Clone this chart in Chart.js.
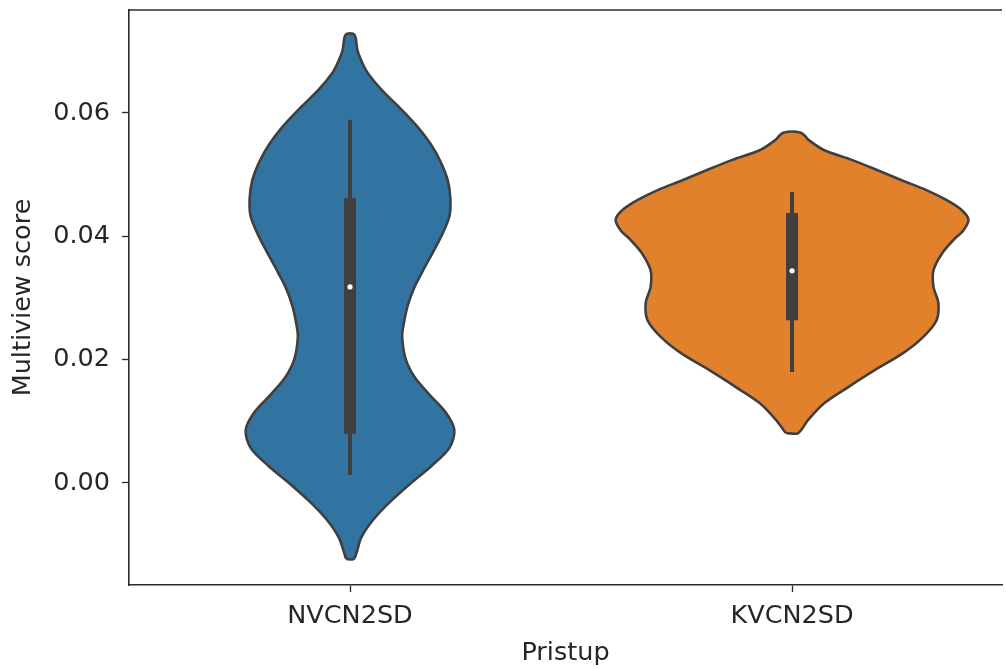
<!DOCTYPE html>
<html>
<head>
<meta charset="utf-8">
<script src="https://cdn.jsdelivr.net/npm/chart.js@4"></script>
<style>
  html, body { margin: 0; padding: 0; background: #fff; overflow: hidden; }
  #wrap { width: 1006px; height: 669px; }
</style>
</head>
<body>
<div id="wrap"><canvas id="violinChart"></canvas></div>
<script>
const categories = ['NVCN2SD', 'KVCN2SD'];
const yTicks = [0, 0.02, 0.04, 0.06];

// violin outlines: score levels (bottom -> top) and half widths of the density
const nvcnLevels = [-0.0123, -0.0089, -0.0060, -0.0031, -0.0002, 0.0028, 0.0057, 0.0086, 0.0115, 0.0143,
  0.0172, 0.0201, 0.0237, 0.0260, 0.0289, 0.0318, 0.0347, 0.0376, 0.0404, 0.0433,
  0.0462, 0.0491, 0.0521, 0.0550, 0.0579, 0.0608, 0.0637, 0.0665, 0.0681, 0.0701, 0.0727];
const nvcnWidth = [0.009, 0.025, 0.052, 0.090, 0.135, 0.185, 0.225, 0.236, 0.216, 0.180,
  0.146, 0.126, 0.118, 0.122, 0.131, 0.146, 0.167, 0.189, 0.209, 0.225,
  0.227, 0.221, 0.205, 0.182, 0.151, 0.113, 0.072, 0.040, 0.028, 0.017, 0.010];

const kvcnLevels = [0.0081, 0.0102, 0.0130, 0.0156, 0.0183, 0.0211, 0.0237, 0.0264, 0.0292, 0.0318,
  0.0345, 0.0373, 0.0394, 0.0410, 0.0427, 0.0443, 0.0459, 0.0475, 0.0491, 0.0508,
  0.0524, 0.0540, 0.0556, 0.0568];
const kvcnWidth = [0.014, 0.036, 0.074, 0.128, 0.187, 0.252, 0.297, 0.327, 0.331, 0.320,
  0.320, 0.340, 0.365, 0.388, 0.399, 0.383, 0.349, 0.304, 0.248, 0.191,
  0.135, 0.072, 0.038, 0.020];

// inner box plot
const whiskerLow = [0.0013, 0.0180];
const q1 = [0.0080, 0.0264];
const median = [0.0318, 0.0344];
const q3 = [0.0462, 0.0438];
const whiskerHigh = [0.0589, 0.0472];

const colors = ['#3274a1', '#e1812c'];
const edge = '#3f3f3f';

function outline(center, levels, widths) {
    const pts = [];
    for (let i = 0; i < levels.length; i++) pts.push({x: center - widths[i], y: levels[i]});
    for (let i = levels.length - 1; i >= 0; i--) pts.push({x: center + widths[i], y: levels[i]});
    pts.push(pts[0]);
    return pts;
}

const violins = [[nvcnLevels, nvcnWidth], [kvcnLevels, kvcnWidth]];
const datasets = [];
violins.forEach(([lv, wd], i) => {
    datasets.push({
        data: outline(i, lv, wd),
        fill: 'shape',
        backgroundColor: colors[i],
        borderColor: edge,
        borderWidth: 2.6,
        borderJoinStyle: 'round',
        tension: 0.3,
        pointRadius: 0,
        order: 3
    });
    datasets.push({
        data: [{x: i, y: whiskerLow[i]}, {x: i, y: whiskerHigh[i]}],
        borderColor: edge,
        borderWidth: 4,
        borderCapStyle: 'butt',
        pointRadius: 0,
        fill: false,
        order: 2
    });
    datasets.push({
        data: [{x: i, y: q1[i]}, {x: i, y: q3[i]}],
        borderColor: edge,
        borderWidth: 12,
        borderCapStyle: 'butt',
        pointRadius: 0,
        fill: false,
        order: 1
    });
    datasets.push({
        data: [{x: i, y: median[i]}],
        showLine: false,
        pointRadius: 2.6,
        pointBackgroundColor: '#ffffff',
        pointBorderWidth: 0,
        order: 0
    });
});

const frameTop = {
    id: 'frameTop',
    afterDatasetsDraw(chart) {
        const {ctx, chartArea: a} = chart;
        ctx.save();
        ctx.strokeStyle = '#2a2a2a';
        ctx.lineWidth = 1.6;
        ctx.beginPath();
        ctx.moveTo(a.left, a.top);
        ctx.lineTo(a.right, a.top);
        ctx.stroke();
        ctx.restore();
    }
};

const font = {family: '"DejaVu Sans", sans-serif', size: 25.5};

new Chart(document.getElementById('violinChart').getContext('2d'), {
    type: 'line',
    data: {datasets},
    options: {
        responsive: true,
        maintainAspectRatio: false,
        animation: false,
        layout: {padding: {top: 10, right: 0, bottom: 0, left: 0}},
        plugins: {legend: {display: false}, tooltip: {enabled: false}},
        scales: {
            x: {
                type: 'linear',
                min: -0.5,
                max: 1.475,
                afterBuildTicks: axis => { axis.ticks = categories.map((c, i) => ({value: i})); },
                afterFit: axis => { axis.height = 84; axis.paddingLeft = 0; axis.paddingRight = 0; },
                ticks: {
                    callback: v => categories[v],
                    color: '#262626',
                    font,
                    padding: 9,
                    maxRotation: 0
                },
                grid: {drawOnChartArea: false, drawTicks: true, tickLength: 7, tickWidth: 1.3, color: '#2a2a2a'},
                border: {display: true, color: '#2a2a2a', width: 1.6},
                title: {display: true, text: 'Pristup', color: '#262626', font, padding: {top: 0, bottom: 0}}
            },
            y: {
                type: 'linear',
                min: -0.01654,
                max: 0.0767,
                afterBuildTicks: axis => { axis.ticks = yTicks.map(v => ({value: v})); },
                afterFit: axis => { axis.width = 129; axis.paddingTop = 0; axis.paddingBottom = 0; },
                ticks: {
                    callback: v => v.toFixed(2),
                    color: '#262626',
                    font,
                    padding: 12
                },
                grid: {drawOnChartArea: false, drawTicks: true, tickLength: 7, tickWidth: 1.3, color: '#2a2a2a'},
                border: {display: true, color: '#2a2a2a', width: 1.6},
                title: {display: true, text: 'Multiview score', color: '#262626', font, padding: {top: 8, bottom: 0}}
            }
        }
    },
    plugins: [frameTop]
});
</script>
</body>
</html>
